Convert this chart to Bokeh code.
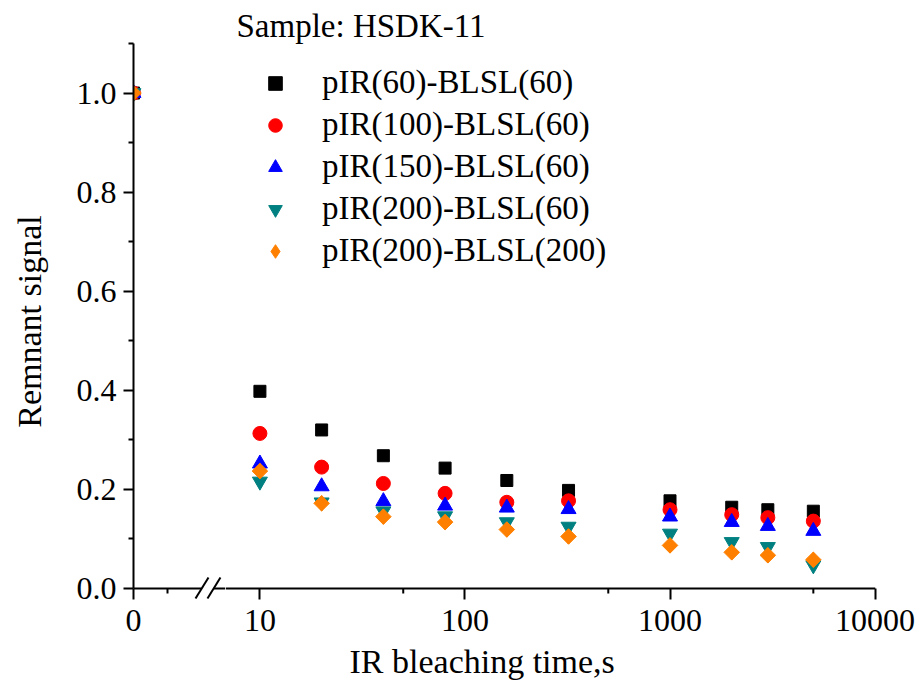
from bokeh.plotting import figure
from bokeh.layouts import row
from bokeh.models import FixedTicker, Range1d, Title, Legend, LegendItem, Span
from bokeh.embed import file_html
from bokeh.resources import INLINE

# ---- data ----
times = [10, 20, 40, 80, 160, 320, 1000, 2000, 3000, 5000]
zero_time = [0]
zero_value = [1.0]

s_60_60 = [0.398, 0.320, 0.268, 0.243, 0.218, 0.198, 0.177, 0.164, 0.159, 0.156]
s_100_60 = [0.313, 0.245, 0.212, 0.192, 0.174, 0.177, 0.159, 0.149, 0.143, 0.136]
s_150_60 = [0.252, 0.206, 0.176, 0.167, 0.163, 0.160, 0.145, 0.134, 0.126, 0.116]
s_200_60 = [0.216, 0.174, 0.156, 0.146, 0.134, 0.125, 0.111, 0.094, 0.084, 0.047]
s_200_200 = [0.237, 0.172, 0.145, 0.134, 0.119, 0.105, 0.087, 0.073, 0.067, 0.058]

series_names = ["pIR(60)-BLSL(60)", "pIR(100)-BLSL(60)", "pIR(150)-BLSL(60)",
                "pIR(200)-BLSL(60)", "pIR(200)-BLSL(200)"]
series_values = [s_60_60, s_100_60, s_150_60, s_200_60, s_200_200]

y_ticks = [0.0, 0.2, 0.4, 0.6, 0.8, 1.0]
y_minor_ticks = [0.1, 0.3, 0.5, 0.7, 0.9, 1.1]
y_tick_labels = ["0.0", "0.2", "0.4", "0.6", "0.8", "1.0"]
x_left_ticks = [0]
x_left_minor = [0.5]
x_left_labels = ["0"]
x_ticks = [10, 100, 1000, 10000]
x_minor_ticks = [50, 500, 5000]
x_tick_labels = ["10", "100", "1000", "10000"]

# ---- styles ----
FONT = "Liberation Serif"
styles = [
    dict(marker="square", color="#000000", size=12, angle=0.0),
    dict(marker="circle", color="#FF0000", size=14, angle=0.0),
    dict(marker="triangle", color="#0000FF", size=15, angle=0.0),
    dict(marker="inverted_triangle", color="#008080", size=15, angle=0.0),
    dict(marker="square", color="#FF8000", size=11, angle=0.785398),  # diamond look
]
Y_RANGE = Range1d(-0.0222, 1.1)   # y = 0 lies 11 px above the frame bottom
MINOR_LEN = -0.0101               # 5 px downward minor ticks


def style_x_axis(ax):
    ax.axis_line_color = None
    ax.major_tick_line_width = 2
    ax.major_tick_line_color = "black"
    ax.major_tick_in = 11
    ax.major_tick_out = 0
    ax.minor_tick_line_color = None
    ax.major_label_standoff = 10
    ax.major_label_text_font = FONT
    ax.major_label_text_font_size = "32px"
    ax.major_label_text_color = "black"


common = dict(height=690, output_backend="svg", toolbar_location=None, y_range=Y_RANGE,
              min_border_top=43, min_border_bottom=91,
              background_fill_color="white", border_fill_color="white")

# ---------- left part: t = 0 on a linear scale ----------
left = figure(width=225, x_range=Range1d(0, 1.353),
              min_border_left=133, min_border_right=0, **common)
left.outline_line_color = None
left.grid.visible = False

yax = left.yaxis[0]
yax.ticker = FixedTicker(ticks=y_ticks, minor_ticks=y_minor_ticks)
yax.major_label_overrides = dict(zip(y_ticks, y_tick_labels))
yax.bounds = (0, 1.1)
yax.axis_line_width = 2
yax.axis_line_color = "black"
yax.major_tick_line_width = 2
yax.minor_tick_line_width = 2
yax.major_tick_in = 0
yax.major_tick_out = 10
yax.minor_tick_in = 0
yax.minor_tick_out = 5
yax.major_label_standoff = 7
yax.major_label_text_font = FONT
yax.major_label_text_font_size = "32px"
yax.major_label_text_color = "black"
yax.axis_label = "Remnant signal"
yax.axis_label_standoff = 26
yax.axis_label_text_font = FONT
yax.axis_label_text_font_size = "34px"
yax.axis_label_text_font_style = "normal"
yax.axis_label_text_color = "black"

lx = left.xaxis[0]
lx.ticker = FixedTicker(ticks=x_left_ticks)
lx.major_label_overrides = dict(zip(x_left_ticks, x_left_labels))
style_x_axis(lx)

# x axis line with the break "//"
left.segment(x0=[0.0, 1.179], y0=[0, 0], x1=[0.997, 1.353], y1=[0, 0],
             line_width=2, line_color="black")
left.segment(x0=[0.912, 1.088], y0=[-0.0202, -0.0202], x1=[1.103, 1.279],
             y1=[0.0222, 0.0222], line_width=2, line_color="black")
left.segment(x0=x_left_minor, y0=[0] * len(x_left_minor), x1=x_left_minor,
             y1=[MINOR_LEN] * len(x_left_minor), line_width=2, line_color="black")

for st in styles:
    left.scatter(zero_time, zero_value, marker=st["marker"], size=st["size"],
                 angle=st["angle"], fill_color=st["color"], line_color=st["color"])

# ---------- right part: log time ----------
right = figure(width=690, x_axis_type="log", x_range=Range1d(6.795, 10050),
               y_axis_location=None, min_border_left=0, min_border_right=40, **common)
right.outline_line_color = None
right.grid.visible = False

rx = right.xaxis[0]
rx.ticker = FixedTicker(ticks=x_ticks)
rx.major_label_overrides = dict(zip(x_ticks, x_tick_labels))
style_x_axis(rx)

right.add_layout(Span(location=0, dimension="width", line_width=2, line_color="black"))
right.segment(x0=x_minor_ticks, y0=[0] * len(x_minor_ticks), x1=x_minor_ticks,
              y1=[MINOR_LEN] * len(x_minor_ticks), line_width=2, line_color="black")

items = []
for name, vals, st in zip(series_names, series_values, styles):
    if st["angle"] != 0.0:
        # plain diamond underneath (used for the legend), rotated square on top
        r_leg = right.scatter(times, vals, marker="diamond", size=15,
                              fill_color=st["color"], line_color=st["color"])
        right.scatter(times, vals, marker=st["marker"], size=st["size"],
                      angle=st["angle"], fill_color=st["color"], line_color=st["color"])
        items.append(LegendItem(label=name, renderers=[r_leg]))
    else:
        r = right.scatter(times, vals, marker=st["marker"], size=st["size"],
                          fill_color=st["color"], line_color=st["color"])
        items.append(LegendItem(label=name, renderers=[r]))

lg = Legend(items=items, location=(33, 330))
lg.border_line_color = None
lg.background_fill_alpha = 0
lg.padding = 0
lg.margin = 0
lg.spacing = 5
lg.glyph_width = 34
lg.glyph_height = 34
lg.label_height = 34
lg.label_standoff = 30
lg.label_text_font = FONT
lg.label_text_font_size = "33px"
lg.label_text_color = "black"
right.add_layout(lg)

# x axis title, centred under the whole broken axis
right.add_layout(Title(text="IR bleaching time,s", align="left", offset=124,
                       standoff=14, text_font=FONT, text_font_size="34px",
                       text_font_style="normal", text_color="black"), "below")
right.add_layout(Title(text="Sample: HSDK-11", align="left", offset=11,
                       standoff=0, text_font=FONT, text_font_size="33px",
                       text_font_style="normal", text_color="black"), "above")

open("out.html", "w").write(file_html(row(left, right), INLINE))
